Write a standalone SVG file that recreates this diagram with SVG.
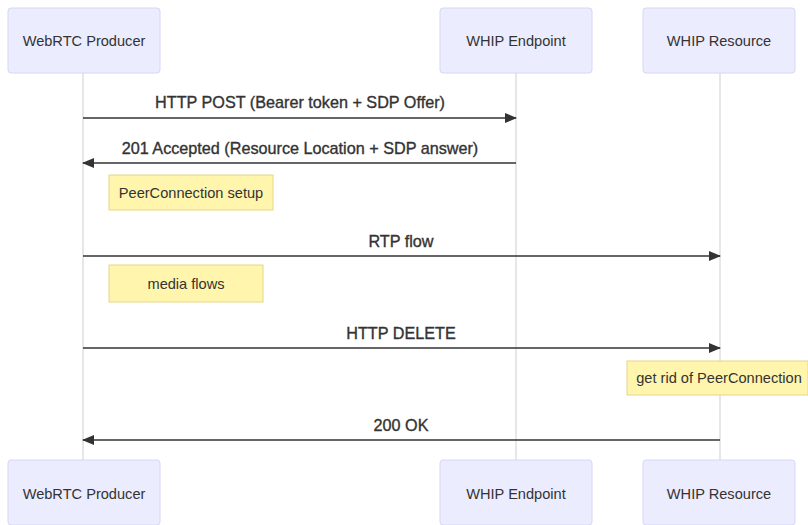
<svg xmlns="http://www.w3.org/2000/svg" width="808" height="525" viewBox="0 0 808 525">
  <defs>
    <marker id="arrowhead" viewBox="0 0 12 10" refX="11" refY="5" markerWidth="12" markerHeight="10" markerUnits="userSpaceOnUse" orient="auto">
      <path d="M0,0 L12,5 L0,10 z" fill="#333"/>
    </marker>
  </defs>
  <style>
    .actor rect { fill: #ececff; stroke: #d6d6f5; stroke-width: 1; }
    .actor text { font-family: "Liberation Sans", Arial, sans-serif; font-size: 14.6px; fill: #333; text-anchor: middle; dominant-baseline: central; }
    .lifeline { stroke: #cfcfcf; stroke-width: 1; }
    .msg { stroke: #333; stroke-width: 1.5; fill: none; marker-end: url(#arrowhead); }
    .msg-label { font-family: "Liberation Sans", Arial, sans-serif; font-size: 16.2px; fill: #333; text-anchor: middle; stroke: #333; stroke-width: 0.35; }
    .note rect { fill: #fff5ad; stroke: #e6d686; stroke-width: 1; }
    .note text { font-family: "Liberation Sans", Arial, sans-serif; font-size: 14.6px; fill: #333; text-anchor: middle; dominant-baseline: central; }
  </style>
  <rect width="808" height="525" fill="#ffffff"/>

  <!-- lifelines -->
  <g id="lifelines">
    <line class="lifeline" x1="83" y1="73" x2="83" y2="460"/>
    <line class="lifeline" x1="516" y1="73" x2="516" y2="460"/>
    <line class="lifeline" x1="720" y1="73" x2="720" y2="460"/>
  </g>

  <!-- participants, top -->
  <g id="producer-top" class="actor">
    <rect x="8" y="8" width="152" height="65" rx="3"/>
    <text x="84" y="41">WebRTC Producer</text>
  </g>
  <g id="endpoint-top" class="actor">
    <rect x="440" y="8" width="152" height="65" rx="3"/>
    <text x="516" y="41">WHIP Endpoint</text>
  </g>
  <g id="resource-top" class="actor">
    <rect x="643" y="8" width="152" height="65" rx="3"/>
    <text x="719" y="41">WHIP Resource</text>
  </g>

  <!-- participants, bottom -->
  <g id="producer-bottom" class="actor">
    <rect x="8" y="460" width="152" height="65" rx="3"/>
    <text x="84" y="494">WebRTC Producer</text>
  </g>
  <g id="endpoint-bottom" class="actor">
    <rect x="440" y="460" width="152" height="65" rx="3"/>
    <text x="516" y="494">WHIP Endpoint</text>
  </g>
  <g id="resource-bottom" class="actor">
    <rect x="643" y="460" width="152" height="65" rx="3"/>
    <text x="719" y="494">WHIP Resource</text>
  </g>

  <!-- notes -->
  <g id="note-setup" class="note">
    <rect x="109" y="175" width="164" height="35"/>
    <text x="191" y="193">PeerConnection setup</text>
  </g>
  <g id="note-media" class="note">
    <rect x="109" y="265" width="154" height="37"/>
    <text x="186" y="284">media flows</text>
  </g>
  <g id="note-teardown" class="note">
    <rect x="627" y="361" width="181" height="34"/>
    <text x="719" y="378">get rid of PeerConnection</text>
  </g>

  <!-- messages -->
  <g id="connectors">
    <line class="msg" x1="83" y1="118" x2="516" y2="118"/>
    <line class="msg" x1="516" y1="163" x2="83" y2="163"/>
    <line class="msg" x1="83" y1="256" x2="720" y2="256"/>
    <line class="msg" x1="83" y1="348" x2="720" y2="348"/>
    <line class="msg" x1="720" y1="440" x2="83" y2="440"/>
    <text class="msg-label" x="300" y="108">HTTP POST (Bearer token + SDP Offer)</text>
    <text class="msg-label" x="300" y="154">201 Accepted (Resource Location + SDP answer)</text>
    <text class="msg-label" x="401" y="247">RTP flow</text>
    <text class="msg-label" x="401" y="339">HTTP DELETE</text>
    <text class="msg-label" x="401" y="431">200 OK</text>
  </g>
</svg>
